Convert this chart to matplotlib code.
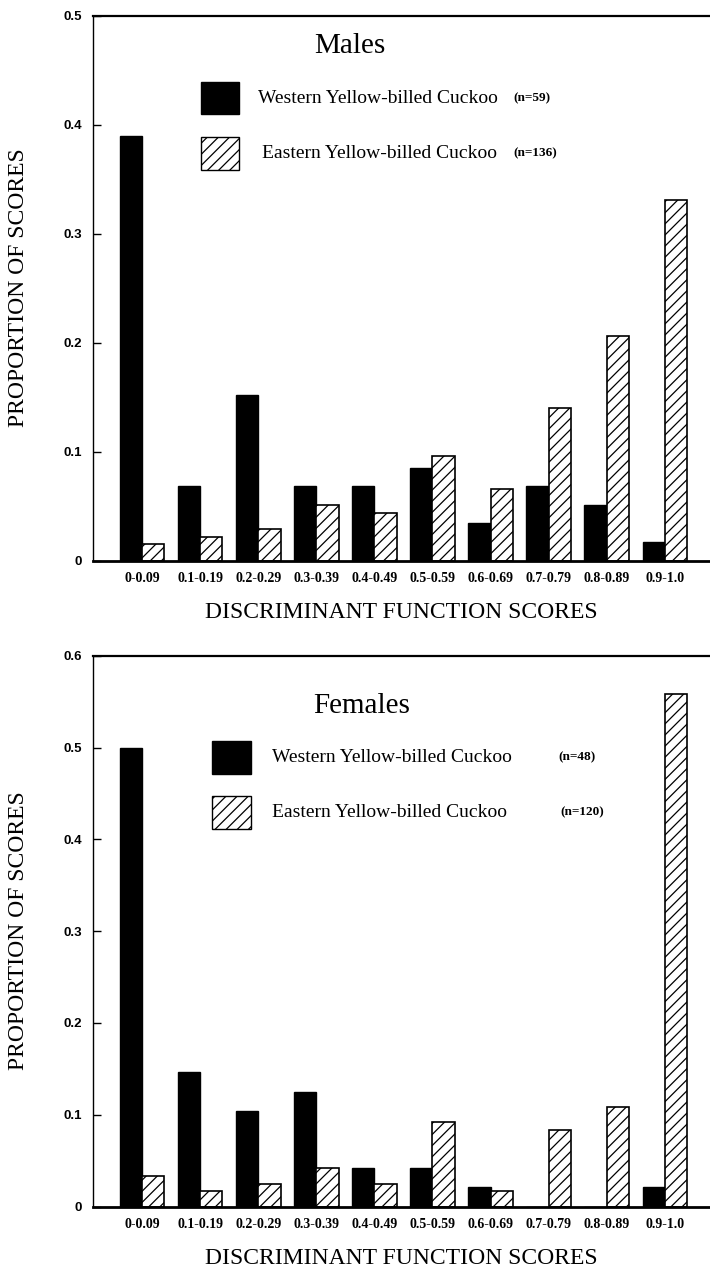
import numpy as np
import matplotlib
matplotlib.use("Agg")
import matplotlib.pyplot as plt
from matplotlib.patches import Rectangle

plt.rcParams['font.family'] = ['Liberation Serif', 'DejaVu Serif']
plt.rcParams['hatch.linewidth'] = 0.9

# score classes on the x axis
score_bins = ['0-0.09', '0.1-0.19', '0.2-0.29', '0.3-0.39', '0.4-0.49',
              '0.5-0.59', '0.6-0.69', '0.7-0.79', '0.8-0.89', '0.9-1.0']

# proportion of scores, males
male_western = [0.390, 0.068, 0.152, 0.068, 0.068, 0.085, 0.034, 0.068, 0.051, 0.017]
male_eastern = [0.015, 0.022, 0.029, 0.051, 0.044, 0.096, 0.066, 0.140, 0.206, 0.331]

# proportion of scores, females
female_western = [0.500, 0.146, 0.104, 0.125, 0.042, 0.042, 0.021, 0.0, 0.0, 0.021]
female_eastern = [0.033, 0.017, 0.025, 0.042, 0.025, 0.092, 0.017, 0.083, 0.108, 0.558]

male_n = ['(n=59)', '(n=136)']
female_n = ['(n=48)', '(n=120)']
species = ['Western Yellow-billed Cuckoo', 'Eastern Yellow-billed Cuckoo']

W, H = 710, 1273
fig = plt.figure(figsize=(W / 100, H / 100), dpi=100)


def panel(rect, western, eastern, ymax):
    """one histogram panel with paired bars"""
    ax = fig.add_axes(rect)
    x = np.arange(len(score_bins))
    w = 0.385
    ax.bar(x - w / 2, western, w, color='black', edgecolor='black', linewidth=1)
    ax.bar(x + w / 2, eastern, w, color='white', edgecolor='black',
           linewidth=1.2, hatch='///')
    ax.set_xlim(-0.843, 9.776)
    ax.set_ylim(0, ymax)
    ax.spines['right'].set_visible(False)
    ax.spines['top'].set_linewidth(1.6)
    ax.spines['bottom'].set_linewidth(2)
    ax.spines['left'].set_linewidth(1)
    ax.set_xticks(x, score_bins, fontsize=10, fontweight='bold')
    ax.tick_params(axis='x', length=0, pad=8)
    yt = np.round(np.arange(0, ymax + 0.001, 0.1), 1)
    ylabels = ['0' if v == 0 else '%.1f' % v for v in yt]
    ax.set_yticks(yt, ylabels, fontsize=9.5, fontweight='bold',
                  fontfamily='Liberation Sans')
    ax.tick_params(axis='y', direction='in', length=6, width=1, pad=8)
    return ax


def legend_keys(ax, x0, tops, text_x, n_x, labels_n):
    """big square keys drawn by hand like the original figure"""
    kw, kh = 0.0626, 0.060
    hatches = [None, '///']
    faces = ['black', 'white']
    for i in range(2):
        ax.add_patch(Rectangle((x0, tops[i] - kh), kw, kh, transform=ax.transAxes,
                               facecolor=faces[i], edgecolor='black',
                               linewidth=1, hatch=hatches[i], clip_on=False))
        yc = tops[i] - kh / 2
        ax.text(text_x[i], yc, species[i], transform=ax.transAxes,
                fontsize=14, va='center', ha='left')
        ax.text(n_x[i], yc, labels_n[i], transform=ax.transAxes,
                fontsize=9.5, fontweight='bold', va='center', ha='left')


# Males
top = panel([93 / W, 1 - 560.5 / H, 617 / W, 544.5 / H], male_western, male_eastern, 0.5)
top.text(0.4165, 0.9315, 'Males', transform=top.transAxes, fontsize=21,
         ha='center', va='baseline')
legend_keys(top, 0.1746, [0.8793, 0.7772], [0.2669, 0.2739], [0.6807, 0.6807], male_n)

# Females
bot = panel([93 / W, 1 - 1206.5 / H, 617 / W, 550.8 / H], female_western, female_eastern, 0.6)
bot.text(0.435, 0.8954, 'Females', transform=bot.transAxes, fontsize=21,
         ha='center', va='baseline')
legend_keys(bot, 0.1934, [0.8457, 0.7458], [0.2896, 0.2896], [0.755, 0.757], female_n)

# axis titles
for yc in [288, 931]:
    fig.text(19 / W, 1 - yc / H, 'PROPORTION OF SCORES', rotation=90,
             fontsize=17, ha='center', va='center')
for yc in [612.5, 1259]:
    fig.text(401.5 / W, 1 - yc / H, 'DISCRIMINANT FUNCTION SCORES',
             fontsize=17, ha='center', va='center')

fig.savefig('out.png', dpi=100)
